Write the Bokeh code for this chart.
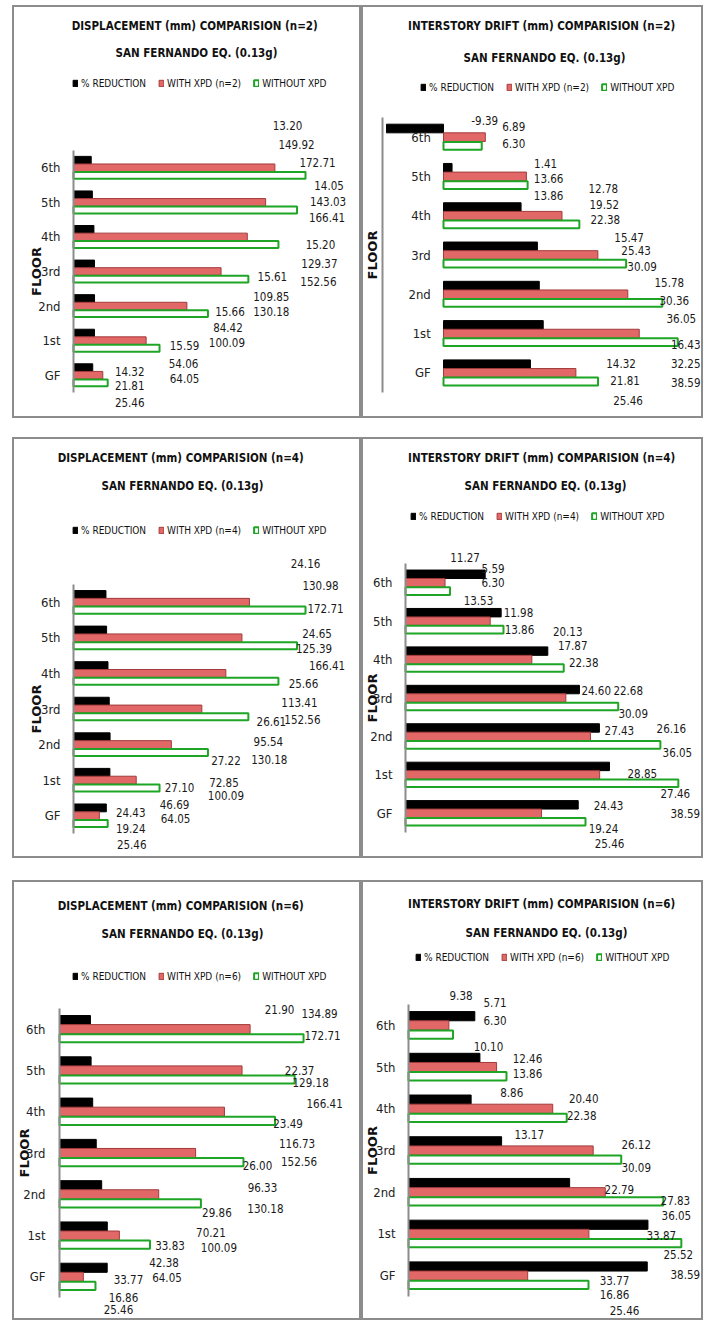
from bokeh.plotting import figure
from bokeh.models import (ColumnDataSource, Range1d, FixedTicker, LabelSet, Label,
                          Legend, LegendItem, Spacer)
from bokeh.layouts import row, column
from bokeh.transform import dodge
from bokeh.core.properties import value
from bokeh.embed import file_html
from bokeh.resources import INLINE

# ---------------- data ----------------
floors = ["GF", "1st", "2nd", "3rd", "4th", "5th", "6th"]

disp_without = [25.46, 64.05, 100.09, 130.18, 152.56, 166.41, 172.71]
drift_without = [25.46, 38.59, 36.05, 30.09, 22.38, 13.86, 6.30]

disp_n2_with = [21.81, 54.06, 84.42, 109.85, 129.37, 143.03, 149.92]
disp_n2_reduction = [14.32, 15.59, 15.66, 15.61, 15.20, 14.05, 13.20]
drift_n2_with = [21.81, 32.25, 30.36, 25.43, 19.52, 13.66, 6.89]
drift_n2_reduction = [14.32, 16.43, 15.78, 15.47, 12.78, 1.41, -9.39]

disp_n4_with = [19.24, 46.69, 72.85, 95.54, 113.41, 125.39, 130.98]
disp_n4_reduction = [24.43, 27.10, 27.22, 26.61, 25.66, 24.65, 24.16]
drift_n4_with = [19.24, 27.46, 26.16, 22.68, 17.87, 11.98, 5.59]
drift_n4_reduction = [24.43, 28.85, 27.43, 24.60, 20.13, 13.53, 11.27]

disp_n6_with = [16.86, 42.38, 70.21, 96.33, 116.73, 129.18, 134.89]
disp_n6_reduction = [33.77, 33.83, 29.86, 26.00, 23.49, 22.37, 21.90]
drift_n6_with = [16.86, 25.52, 27.83, 26.12, 20.40, 12.46, 5.71]
drift_n6_reduction = [33.77, 33.87, 22.79, 13.17, 8.86, 10.10, 9.38]

# ---------------- label placement (px offsets, GF..6th) ----------------
# (dx, dy) from end of WITHOUT XPD bar / floor centre; dy positive = downwards
lbl_p1 = {
    "black": [(22, -4), (25, 5), (22, 5), (24, 5), (42, 8), (32, -17), (-18, -42)],
    "red":   [(22, 10), (24, 23), (20, 21), (23, 25), (41, 27), (31, -1), (-9, -23)],
    "green": [(22, 27), (25, 38), (19, 36), (23, 40), (40, 45), (30, 15), (12, -5)],
}
lbl_p2 = {
    "black": [(23, -9), (8, 11), (7, -12), (3, -18), (24, -27), (18, -13), (3, -17)],
    "red":   [(27, 8), (8, 30), (12, 6), (10, -5), (25, -11), (21, 2), (32, -11)],
    "green": [(30, 28), (8, 49), (19, 24), (16, 11), (26, 4), (21, 19), (32, 6)],
}
lbl_p3 = {
    "black": [(23, -3), (20, 7), (18, 16), (23, 12), (25, 10), (20, -4), (0, -39)],
    "red":   [(23, 13), (15, 24), (16, 38), (20, 32), (21, 29), (17, 11), (15, -17)],
    "green": [(24, 29), (16, 38), (18, 51), (21, 50), (24, 46), (30, 28), (20, 6)],
}
lbl_p4 = {
    "black": [(23, -8), (-36, -1), (-41, -6), (-22, -8), (4, -28), (-25, -21), (15, -25)],
    "red":   [(18, 15), (-3, 19), (11, -8), (10, -8), (9, -14), (15, -9), (43, -14)],
    "green": [(24, 30), (7, 39), (17, 16), (15, 15), (20, 3), (16, 8), (43, 0)],
}
lbl_p5 = {
    "black": [(33, 3), (20, 10), (16, 18), (14, 12), (13, 12), (5, 0), (-24, -20)],
    "red":   [(28, 21), (14, 27), (10, 38), (19, 34), (22, 32), (16, 12), (16, -16)],
    "green": [(23, 33), (17, 42), (18, 53), (22, 55), (24, 50), (30, 33), (19, 6)],
}
lbl_p6 = {
    "black": [(26, 5), (-20, 2), (-44, -3), (-92, -16), (-55, -16), (-18, -21), (8, -30)],
    "red":   [(26, 19), (-3, 21), (12, 8), (15, -6), (17, -10), (21, -9), (42, -23)],
    "green": [(36, 35), (4, 41), (13, 23), (15, 17), (15, 7), (21, 6), (42, -5)],
}

FONT = "DejaVu Sans Condensed, Liberation Sans Narrow, Liberation Sans, sans-serif"
BOLDFONT = "DejaVu Sans, Liberation Sans, sans-serif"
RED = "#e26868"
RED_EDGE = "#a33b3b"
GREEN = "#1fa526"
SUB = "SAN FERNANDO EQ. (0.13g)"

# layout (page pixels): canvas box, zero-line x, px per unit, axis value, category band (top, bottom)
panels = [
    dict(t1="DISPLACEMENT  (mm) COMPARISION (n=2)", n="n=2", black=disp_n2_reduction,
         red=disp_n2_with, green=disp_without, lbl=lbl_p1,
         canvas=(12, 5, 349, 413), zero=73, ppu=1.3433, axis_at=0, band=(150, 392),
         t1pos=(196, 25), t2pos=(196, 52), legpos=(72, 83), s1=13, s2=-9),
    dict(t1="INTERSTORY DRIFT  (mm) COMPARISION (n=2)", n="n=2", black=drift_n2_reduction,
         red=drift_n2_with, green=drift_without, lbl=lbl_p2,
         canvas=(361, 5, 342, 413), zero=443, ppu=6.07, axis_at=-10, band=(117, 392),
         t1pos=(543, 25), t2pos=(544, 57), legpos=(420, 87), s1=-48, s2=25),
    dict(t1="DISPLACEMENT  (mm) COMPARISION (n=4)", n="n=4", black=disp_n4_reduction,
         red=disp_n4_with, green=disp_without, lbl=lbl_p3,
         canvas=(12, 437, 349, 421), zero=73, ppu=1.3433, axis_at=0, band=(584, 833),
         t1pos=(182, 457), t2pos=(182, 485), legpos=(72, 530), s1=13, s2=-9),
    dict(t1="INTERSTORY DRIFT  (mm) COMPARISION (n=4)", n="n=4", black=drift_n4_reduction,
         red=drift_n4_with, green=drift_without, lbl=lbl_p4,
         canvas=(361, 437, 342, 421), zero=405, ppu=7.07, axis_at=0, band=(563, 832),
         t1pos=(543, 457), t2pos=(545, 485), legpos=(410, 516), s1=13, s2=-13),
    dict(t1="DISPLACEMENT  (mm) COMPARISION (n=6)", n="n=6", black=disp_n6_reduction,
         red=disp_n6_with, green=disp_without, lbl=lbl_p5,
         canvas=(12, 880, 349, 440), zero=59, ppu=1.413, axis_at=0, band=(1008, 1297),
         t1pos=(182, 905), t2pos=(182, 933), legpos=(72, 976), s1=14, s2=-12),
    dict(t1="INTERSTORY DRIFT  (mm) COMPARISION (n=6)", n="n=6", black=drift_n6_reduction,
         red=drift_n6_with, green=drift_without, lbl=lbl_p6,
         canvas=(361, 880, 342, 440), zero=408, ppu=7.07, axis_at=0, band=(1004, 1296),
         t1pos=(543, 903), t2pos=(546, 932), legpos=(415, 957), s1=13, s2=-10),
]

ypos = list(range(len(floors)))


def make_panel(s):
    cx, cy, cw, ch = s["canvas"]
    ppu = s["ppu"]
    x0 = -(s["zero"] - cx) / ppu
    bt, bb = s["band"]
    sp = (bb - bt) / len(floors)
    y1 = len(floors) - 0.5 + (bt - cy) / sp
    y0 = -0.5 - (cy + ch - bb) / sp

    p = figure(width=cw, height=ch, x_range=Range1d(x0, x0 + cw / ppu),
               y_range=Range1d(y0, y1), output_backend="svg", toolbar_location=None,
               min_border=0, min_border_left=0, min_border_right=0,
               min_border_top=0, min_border_bottom=0)
    p.title.visible = False
    p.outline_line_color = "#8c8c8c"
    p.outline_line_width = 3
    p.background_fill_color = "white"
    p.border_fill_color = "white"
    p.xaxis.visible = False
    p.xgrid.visible = False
    p.ygrid.visible = False

    ax = p.yaxis[0]
    ax.fixed_location = s["axis_at"]
    ax.bounds = (-0.5, len(floors) - 0.5)
    ax.ticker = FixedTicker(ticks=ypos)
    ax.major_label_overrides = {i: f for i, f in zip(ypos, floors)}
    ax.axis_label = "FLOOR"
    ax.axis_label_text_font = BOLDFONT
    ax.axis_label_text_font_style = "bold"
    ax.axis_label_text_font_size = "13px"
    ax.axis_label_text_color = "#111111"
    ax.axis_label_standoff = s["s2"]
    ax.major_label_text_font = FONT
    ax.major_label_text_font_size = "13px"
    ax.major_label_text_color = "#222222"
    ax.major_label_standoff = s["s1"]
    ax.major_tick_in = 0
    ax.major_tick_out = 0
    ax.minor_tick_in = 0
    ax.minor_tick_out = 0
    ax.axis_line_color = "#8c8c8c"
    ax.axis_line_width = 2

    lbl = s["lbl"]
    data = dict(ypos=ypos, black=s["black"], red=s["red"], green=s["green"])
    for key in ("black", "red", "green"):
        data[key + "_txt"] = [f"{v:.2f}" for v in s[key]]
        data[key + "_dx"] = [d[0] for d in lbl[key]]
        data[key + "_dy"] = [-d[1] for d in lbl[key]]
    src = ColumnDataSource(data)

    h = 0.22
    rb = p.hbar(y=dodge("ypos", h), left=0, right="black", height=h,
                source=src, fill_color="black", line_color="black")
    rr = p.hbar(y=dodge("ypos", 0), left=0, right="red", height=h,
                source=src, fill_color=RED, line_color=RED_EDGE, line_width=1)
    rg = p.hbar(y=dodge("ypos", -h), left=0, right="green", height=h * 0.9,
                source=src, fill_color="white", line_color=GREEN, line_width=2)

    for key in ("black", "red", "green"):
        p.add_layout(LabelSet(x="green", y="ypos", text=key + "_txt", source=src,
                              x_offset=key + "_dx", y_offset=key + "_dy",
                              text_align="center", text_baseline="middle",
                              text_font=value(FONT), text_font_size="11.5px",
                              text_color="#1a1a1a"))

    for txt, pos in ((s["t1"], s["t1pos"]), (SUB, s["t2pos"])):
        p.add_layout(Label(x=pos[0] - cx, y=cy + ch - pos[1], x_units="screen", y_units="screen",
                           text=txt, text_align="center", text_baseline="middle",
                           text_font=FONT, text_font_style="bold", text_font_size="11.5px",
                           text_color="#111111"))

    lx, ly = s["legpos"]
    leg = Legend(items=[LegendItem(label="% REDUCTION", renderers=[rb]),
                        LegendItem(label="WITH XPD (" + s["n"] + ")", renderers=[rr]),
                        LegendItem(label="WITHOUT XPD", renderers=[rg])],
                 location=(lx - cx, cy + ch - (ly + 6)), orientation="horizontal",
                 glyph_width=6, glyph_height=8, label_standoff=3, spacing=12,
                 padding=0, margin=0, label_height=12,
                 label_text_font=FONT, label_text_font_size="10px",
                 label_text_color="#111111",
                 border_line_color=None, background_fill_alpha=0)
    p.add_layout(leg, "center")
    return p


figs = [make_panel(s) for s in panels]

layout = column(
    Spacer(height=5, width=1),
    row(Spacer(width=12, height=1), figs[0], figs[1]),
    Spacer(height=19, width=1),
    row(Spacer(width=12, height=1), figs[2], figs[3]),
    Spacer(height=22, width=1),
    row(Spacer(width=12, height=1), figs[4], figs[5]),
)

open("out.html", "w").write(file_html(layout, INLINE))
